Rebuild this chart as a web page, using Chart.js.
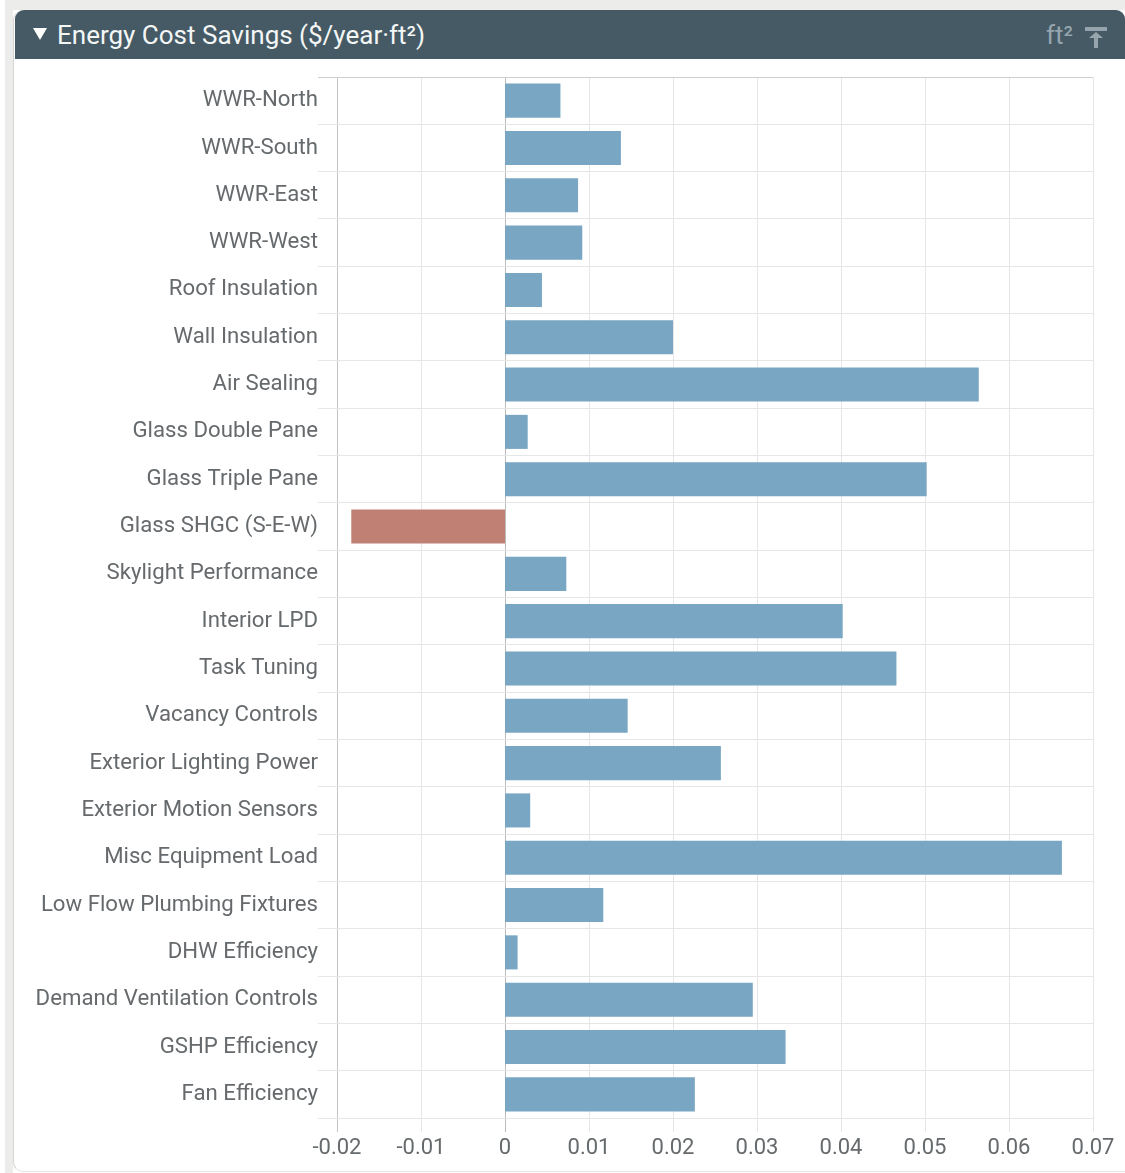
<!DOCTYPE html>
<html>
<head>
<meta charset="utf-8">
<title>Energy Cost Savings</title>
<script src="https://cdn.jsdelivr.net/npm/chart.js@4"></script>
<style>
  html, body { margin: 0; padding: 0; background: #fff; }
  body { width: 1125px; height: 1173px; position: relative; overflow: hidden; font-family: Roboto, sans-serif; }
  .fundoTopo { position: absolute; left: 5px; top: 0; width: 1120px; height: 10px; background: #ecedeb; }
  .fundoLado { position: absolute; left: 5px; top: 0; width: 8px; height: 1173px; background: #ecedeb; }
  .painel { position: absolute; left: 13px; top: 10px; width: 1112px; height: 1162px; background: #fff; border-left: 1px solid #d5d5d5; border-bottom: 1px solid #e4e4e4; border-radius: 10px 0 0 10px; box-sizing: border-box; }
  .cabecalho { position: absolute; left: 15px; top: 10px; width: 1110px; height: 49px; background: #455a65; border-radius: 9px 9px 0 0; color: #f4f6f6; }
  .cabecalho .seta { position: absolute; left: 18px; top: 18px; width: 0; height: 0; border-left: 7.5px solid transparent; border-right: 7.5px solid transparent; border-top: 12px solid #fff; }
  .cabecalho .titulo { position: absolute; left: 42px; top: 8px; font-size: 26px; line-height: 34px; white-space: nowrap; }
  .cabecalho .unidade { position: absolute; left: 1031px; top: 8px; font-size: 26px; line-height: 34px; color: #96a5ad; }
  .cabecalho svg { position: absolute; left: 1068px; top: 15px; }
  #graficoEnergia { position: absolute; left: 0; top: 59px; }
</style>
</head>
<body>
<div class="fundoTopo"></div>
<div class="fundoLado"></div>
<div class="painel"></div>
<div class="cabecalho">
  <div class="seta"></div>
  <div class="titulo">Energy Cost Savings ($/year·ft²)</div>
  <div class="unidade">ft²</div>
  <svg width="26" height="24" viewBox="0 0 26 24">
    <path d="M2 2H24V6H2Z M13 7L20 13H15V23H11V13H6Z" fill="#96a5ad"/>
  </svg>
</div>
<canvas id="graficoEnergia" width="1125" height="1114"></canvas>

<script>
const categorias = [
  "WWR-North", "WWR-South", "WWR-East", "WWR-West", "Roof Insulation", "Wall Insulation",
  "Air Sealing", "Glass Double Pane", "Glass Triple Pane", "Glass SHGC (S-E-W)",
  "Skylight Performance", "Interior LPD", "Task Tuning", "Vacancy Controls",
  "Exterior Lighting Power", "Exterior Motion Sensors", "Misc Equipment Load",
  "Low Flow Plumbing Fixtures", "DHW Efficiency", "Demand Ventilation Controls",
  "GSHP Efficiency", "Fan Efficiency"
];
const economia = [
  0.0066, 0.0138, 0.0087, 0.0092, 0.0044, 0.0200,
  0.0564, 0.0027, 0.0502, -0.0183,
  0.0073, 0.0402, 0.0466, 0.0146,
  0.0257, 0.0030, 0.0663,
  0.0117, 0.0015, 0.0295,
  0.0334, 0.0226
];
const rotulosX = ["-0.02", "-0.01", "0", "0.01", "0.02", "0.03", "0.04", "0.05", "0.06", "0.07"];

const corTexto = "#666a6c";
const corGrade = "#e6e6e6";

Chart.defaults.font.family = "Roboto, sans-serif";

const grafico = new Chart(document.getElementById("graficoEnergia"), {
  type: "bar",
  data: {
    labels: categorias,
    datasets: [{
      label: "Energy Cost Savings",
      data: economia,
      backgroundColor: (ctx) => ctx.raw < 0 ? "#c08074" : "#78a6c3",//negativo fica vermelho
      barPercentage: 0.72,
      categoryPercentage: 1
    }]
  },
  options: {
    indexAxis: "y",
    responsive: false,
    animation: false,
    layout: { padding: { top: 18, right: 32, left: 0, bottom: 0 } },
    plugins: { legend: { display: false }, tooltip: { enabled: false } },
    scales: {
      x: {
        min: -0.02,
        max: 0.07,
        ticks: {
          stepSize: 0.01,
          color: corTexto,
          font: { size: 22 },
          padding: 3,
          maxRotation: 0,
          autoSkip: false,
          callback: (valor, i) => rotulosX[i]
        },
        grid: {
          tickLength: 14,
          color: (ctx) => {
            if (ctx.index === 0) return "#c4c4c4";
            if (ctx.index === 2) return "#bcbcbc";
            return corGrade;
          }
        },
        border: { display: false },
        afterFit: (eixo) => { eixo.height = 55; }
      },
      y: {
        ticks: {
          color: corTexto,
          font: { size: 22.2 },
          padding: 0,
          autoSkip: false
        },
        grid: { tickLength: 19, color: (ctx) => ctx.index === 0 ? "#cfcfcf" : corGrade },
        border: { display: false },
        afterFit: (eixo) => { eixo.width = 337; }
      }
    }
  }
});
</script>
</body>
</html>
